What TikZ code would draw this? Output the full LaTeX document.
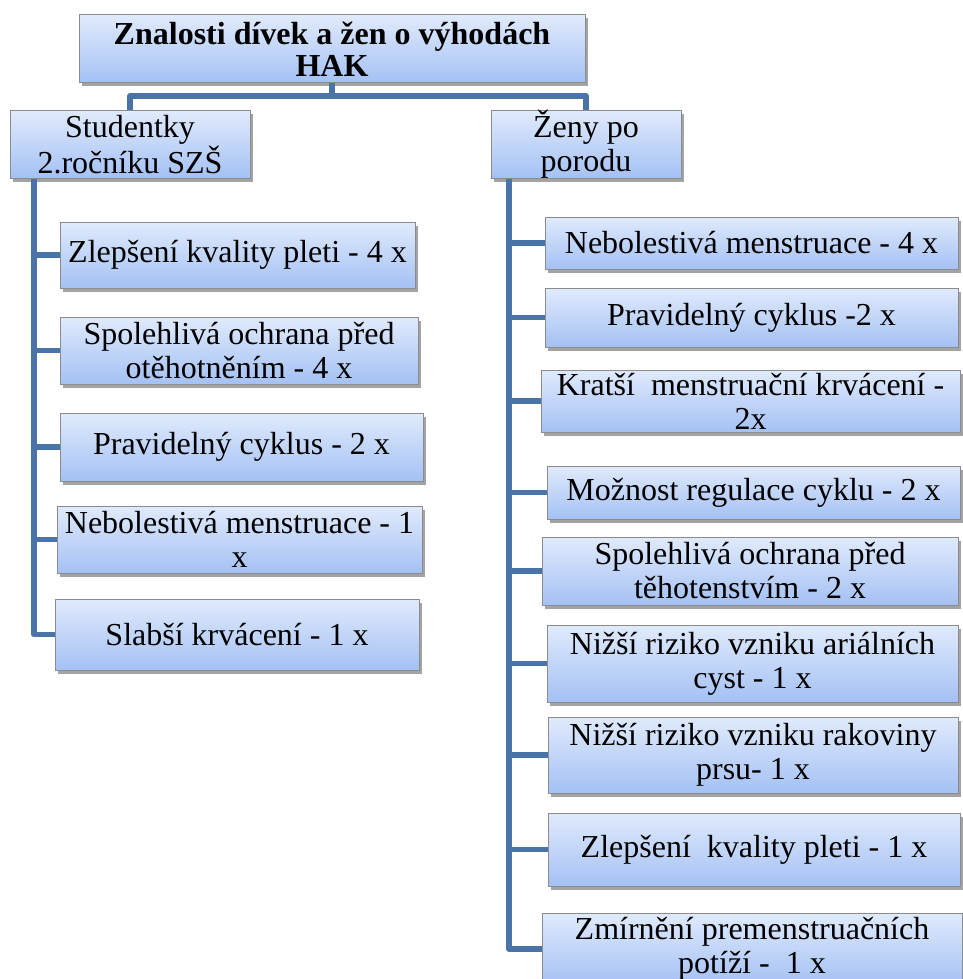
\documentclass[tikz,border=0pt]{standalone}
\usepackage{fontspec}
\setmainfont{Liberation Serif}
\usetikzlibrary{shadows}
\definecolor{boxtop}{HTML}{E0EAFC}
\definecolor{boxbot}{HTML}{A4C1F4}
\definecolor{boxline}{HTML}{8C8C8C}
\definecolor{conncol}{HTML}{4A73A8}
\tikzset{
  box/.style={draw=boxline, line width=1pt, top color=boxtop, bottom color=boxbot,
    align=center, inner sep=0pt, anchor=center,
    font=\fontsize{32}{34}\selectfont,
    drop shadow={shadow xshift=2.5pt, shadow yshift=-3.5pt, opacity=0.45, fill=black!80}},
  conn/.style={draw=conncol, line width=5.5pt, line join=round}
}
\begin{document}
\begin{tikzpicture}[x=1pt,y=-1pt]
\useasboundingbox (0,0) rectangle (962,979);

\coordinate (hub) at (332,96);
\coordinate (spL) at (34,0);
\coordinate (spR) at (509,0);

% boxes
\node[box, minimum width=506pt, minimum height=68pt, font=\fontsize{32}{32}\selectfont\bfseries] (top) at (332,49) {Znalosti dívek a žen o výhodách\\HAK};
\node[box, minimum width=240pt, minimum height=67pt] (stud) at (130,144.5) {Studentky\\2.ročníku SZŠ};
\node[box, minimum width=190pt, minimum height=67pt] (zeny) at (586,144.5) {Ženy po\\porodu};

\node[box, minimum width=355pt, minimum height=66pt] (l1) at (237.5,255) {Zlepšení kvality pleti - 4 x};
\node[box, minimum width=358pt, minimum height=67pt] (l2) at (239,350.5) {Spolehlivá ochrana před\\otěhotněním - 4 x};
\node[box, minimum width=363pt, minimum height=68pt] (l3) at (241.5,447) {Pravidelný cyklus - 2 x};
\node[box, minimum width=365pt, minimum height=67pt] (l4) at (239.5,539.5) {Nebolestivá menstruace - 1\\x};
\node[box, minimum width=364pt, minimum height=71pt] (l5) at (237,634.5) {Slabší krvácení - 1 x};

\node[box, minimum width=413pt, minimum height=52pt] (r1) at (751.5,243) {Nebolestivá menstruace - 4 x};
\node[box, minimum width=413pt, minimum height=59pt] (r2) at (751.5,317.5) {Pravidelný cyklus -2 x};
\node[box, minimum width=419pt, minimum height=62pt] (r3) at (750.5,401) {Kratší\ \ menstruační krvácení -\\2x};
\node[box, minimum width=413pt, minimum height=53pt] (r4) at (753.5,492.5) {Možnost regulace cyklu - 2 x};
\node[box, minimum width=416pt, minimum height=68pt] (r5) at (750,571) {Spolehlivá ochrana před\\těhotenstvím - 2 x};
\node[box, minimum width=411pt, minimum height=77pt] (r6) at (752.5,663.5) {Nižší riziko vzniku ariálních\\cyst - 1 x};
\node[box, minimum width=410pt, minimum height=76pt] (r7) at (753,755) {Nižší riziko vzniku rakoviny\\prsu- 1 x};
\node[box, minimum width=412pt, minimum height=73pt] (r8) at (754,849.5) {Zlepšení\ \ kvality pleti - 1 x};
\node[box, minimum width=420pt, minimum height=72pt] (r9) at (752,949) {Zmírnění premenstruačních\\potíží -\ \ 1 x};

% top connectors
\draw[conn] (top.south) -- (hub);
\draw[conn] (stud.north) |- (hub) -| (zeny.north);

% left spine
\draw[conn] (stud.south -| spL) |- (l5.west);
\foreach \n in {l1,l2,l3,l4}{\draw[conn] (\n.west) -- (\n.west -| spL);}

% right spine
\draw[conn] (zeny.south -| spR) |- (r9.west);
\foreach \n in {r1,r2,r3,r4,r5,r6,r7,r8}{\draw[conn] (\n.west) -- (\n.west -| spR);}
\end{tikzpicture}
\end{document}
